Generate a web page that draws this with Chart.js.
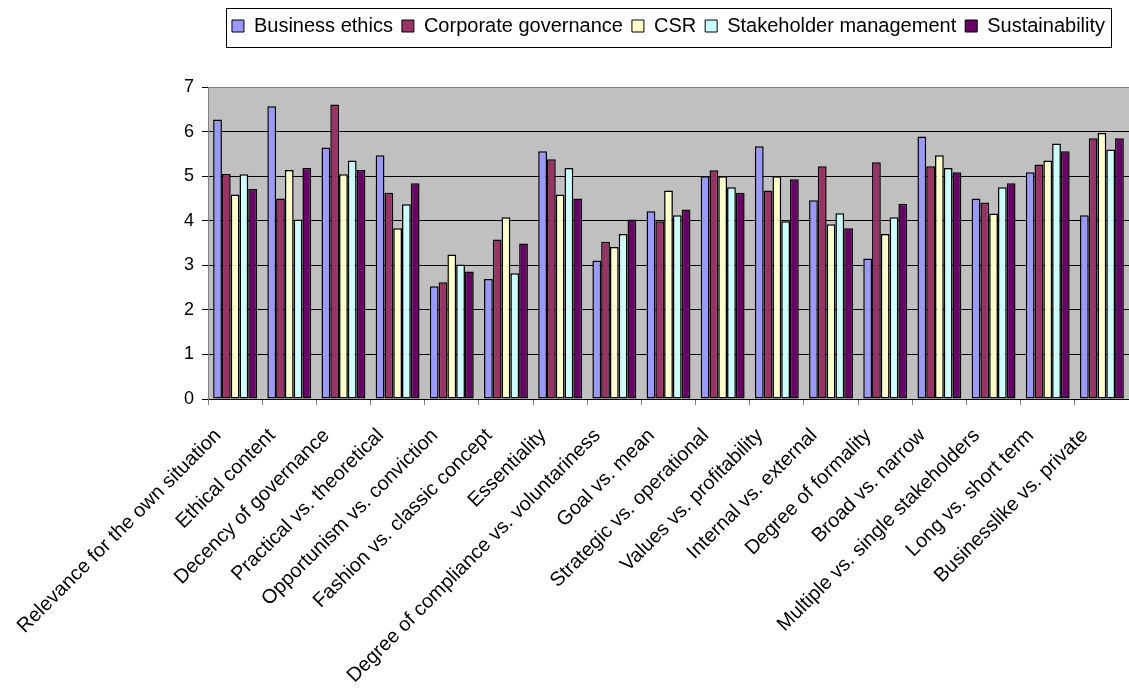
<!DOCTYPE html>
<html>
  <head>
    <title>Concept dimensions</title>
    <meta name="viewport" content="width=device-width, initial-scale=1.0" />
    <script src="https://cdn.jsdelivr.net/npm/chart.js"></script>
    <style>
      body {
        margin: 0;
        background: #ffffff;
      }

      .chart-wrapper {
        position: relative;
        width: 1129px;
        height: 691px;
      }
    </style>
  </head>
  <body>
    <div class="chart-wrapper">
      <canvas id="dimChart"></canvas>
    </div>

    <script>
      var categories = [
        "Relevance for the own situation",
        "Ethical content",
        "Decency of governance",
        "Practical vs. theoretical",
        "Opportunism vs. conviction",
        "Fashion vs. classic concept",
        "Essentiality",
        "Degree of compliance vs. voluntariness",
        "Goal vs. mean",
        "Strategic vs. operational",
        "Values vs. profitability",
        "Internal vs. external",
        "Degree of formality",
        "Broad vs. narrow",
        "Multiple vs. single stakeholders",
        "Long vs. short term",
        "Businesslike vs. private",
      ];

      var businessEthics = [6.27, 6.57, 5.64, 5.47, 2.53, 2.69, 5.56, 3.11, 4.21, 5.0, 5.67, 4.46, 3.15, 5.89, 4.5, 5.09, 4.12];
      var corporateGovernance = [5.05, 4.5, 6.61, 4.63, 2.62, 3.58, 5.38, 3.53, 3.99, 5.13, 4.68, 5.22, 5.31, 5.22, 4.41, 5.26, 5.85];
      var csr = [4.59, 5.14, 5.04, 3.83, 3.24, 4.08, 4.59, 3.41, 4.68, 5.0, 5.0, 3.92, 3.7, 5.47, 4.16, 5.35, 5.97];
      var stakeholderManagement = [5.04, 4.03, 5.35, 4.37, 3.02, 2.82, 5.18, 3.7, 4.12, 4.75, 3.99, 4.17, 4.08, 5.18, 4.75, 5.73, 5.6];
      var sustainability = [4.71, 5.18, 5.14, 4.84, 2.86, 3.49, 4.5, 4.03, 4.25, 4.63, 4.93, 3.83, 4.38, 5.09, 4.84, 5.56, 5.85];

      var yTicks = [0, 1, 2, 3, 4, 5, 6, 7];

      var FONT = "'Liberation Sans', Arial, sans-serif";

      function series(label, values, color) {
        return {
          label: label,
          data: values,
          backgroundColor: color,
          borderColor: "#000000",
          borderWidth: 1.5,
          borderSkipped: false,
          categoryPercentage: 0.81,
          barPercentage: 1.0,
        };
      }

      // gray plot background
      const plotBackground = {
        id: "plotBackground",
        beforeDraw(chart) {
          const a = chart.chartArea;
          const c = chart.ctx;
          c.save();
          c.fillStyle = "#c0c0c0";
          c.fillRect(a.left, a.top, a.right - a.left, a.bottom - a.top);
          c.restore();
        },
      };

      // extra space under the legend and a frame around it
      const legendFrame = {
        id: "legendFrame",
        beforeLayout(chart) {
          const legend = chart.legend;
          if (!legend || legend._gapPatched) return;
          const fit = legend.fit;
          legend.fit = function () {
            fit.call(this);
            this.height += 41;
          };
          legend._gapPatched = true;
        },
        afterDraw(chart) {
          const boxes = chart.legend && chart.legend.legendHitBoxes;
          if (!boxes || !boxes.length) return;
          const first = boxes[0];
          const last = boxes[boxes.length - 1];
          const c = chart.ctx;
          c.save();
          c.strokeStyle = "#000000";
          c.lineWidth = 1;
          c.strokeRect(
            Math.round(first.left - 6) + 0.5,
            Math.round(first.top - 8) + 0.5,
            Math.round(last.left + last.width + 6 - (first.left - 6)),
            39
          );
          c.restore();
        },
      };

      new Chart(document.getElementById("dimChart"), {
        type: "bar",
        data: {
          labels: categories,
          datasets: [
            series("Business ethics", businessEthics, "#9999ff"),
            series("Corporate governance", corporateGovernance, "#993366"),
            series("CSR", csr, "#ffffcc"),
            series("Stakeholder management", stakeholderManagement, "#ccffff"),
            series("Sustainability", sustainability, "#660066"),
          ],
        },
        options: {
          responsive: true,
          maintainAspectRatio: false,
          animation: false,
          layout: {
            padding: { top: 7, left: 0, right: 0, bottom: 0 },
          },
          plugins: {
            legend: {
              position: "top",
              fullSize: false,
              labels: {
                boxWidth: 12,
                boxHeight: 12,
                padding: 9,
                color: "#000000",
                font: { family: FONT, size: 20 },
                generateLabels(chart) {
                  return chart.data.datasets.map((ds, i) => ({
                    text: ds.label,
                    fillStyle: ds.backgroundColor,
                    strokeStyle: "#000000",
                    lineWidth: 1,
                    datasetIndex: i,
                    fontColor: "#000000",
                  }));
                },
              },
            },
            tooltip: { enabled: false },
          },
          scales: {
            x: {
              grid: {
                display: true,
                drawOnChartArea: false,
                drawTicks: true,
                tickLength: 6,
                color: "#808080",
                offset: true,
              },
              border: { display: true, color: "#000000", width: 1 },
              ticks: {
                autoSkip: false,
                maxRotation: 45,
                minRotation: 45,
                padding: 19,
                labelOffset: -17,
                color: "#000000",
                font: { family: FONT, size: 20 },
              },
              afterFit(scale) {
                scale.height = 292;
                scale.paddingLeft = 0;
                scale.paddingRight = 0;
              },
            },
            y: {
              min: 0,
              max: 7,
              afterBuildTicks(scale) {
                scale.ticks = yTicks.map((v) => ({ value: v }));
              },
              grid: {
                color: (ctx) => (ctx.tick && ctx.tick.value === 7 ? "#808080" : "#000000"),
                tickColor: "#000000",
                tickLength: 6,
                lineWidth: 1,
              },
              border: { display: true, color: "#808080", width: 1 },
              ticks: {
                padding: 8,
                color: "#000000",
                font: { family: FONT, size: 18 },
              },
              afterFit(scale) {
                scale.width = 208;
              },
            },
          },
        },
        plugins: [plotBackground, legendFrame],
      });
    </script>
  </body>
</html>
